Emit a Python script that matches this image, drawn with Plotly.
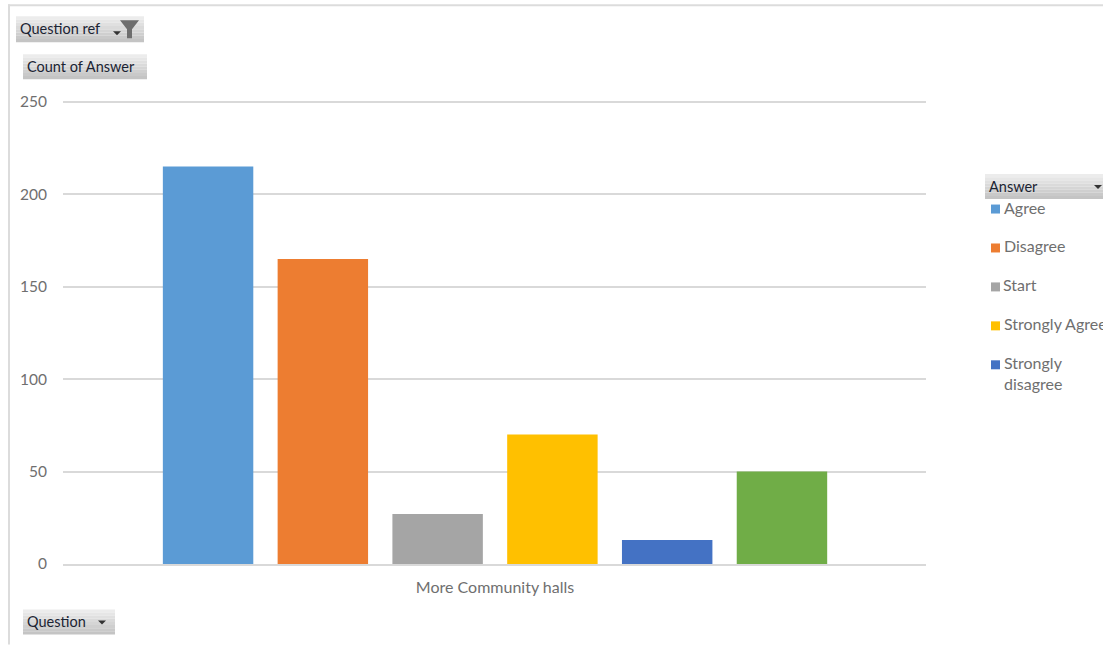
import plotly.graph_objects as go

category = "More Community halls"
answers = ["Agree", "Disagree", "Start", "Strongly Agree", "Strongly disagree", "(blank)"]
counts = [215, 165, 27, 70, 13, 50]
colors = ["#5B9BD5", "#ED7D31", "#A5A5A5", "#FFC000", "#4472C4", "#70AD47"]
y_ticks = [0, 50, 100, 150, 200, 250]
y_top = 252

W, H = 1103, 645
L, R, B = 63, 926, 564.5
T = B - (B - 101.5) * y_top / 250
FONT = "Lato"
GREY = "#6f6f6f"
DARK = "#1b2433"


def px(x):
    return (x - L) / (R - L)


def py(y):
    return (B - y) / (B - T)


fig = go.Figure()
for name, value, color in zip(answers, counts, colors):
    fig.add_bar(x=[category], y=[value], name=name, marker=dict(color=color, line=dict(width=0)),
                showlegend=False)

shapes = []
annotations = []


def rect(x0, y0, x1, y1, color):
    shapes.append(dict(type="rect", xref="paper", yref="paper", x0=px(x0), x1=px(x1),
                       y0=py(y0), y1=py(y1), fillcolor=color, line=dict(width=0), layer="above"))


def text(x, y, s, color=DARK, size=14.5):
    annotations.append(dict(xref="paper", yref="paper", x=px(x - 2), y=py(y - 1), text=s, showarrow=False,
                            xanchor="left", yanchor="middle", align="left",
                            font=dict(family=FONT, size=size, color=color)))


def arrow(cx, cy):
    shapes.append(dict(type="path", xref="paper", yref="paper",
                       path=f"M {px(cx - 4)} {py(cy - 2)} L {px(cx + 4)} {py(cy - 2)} L {px(cx)} {py(cy + 2)} Z",
                       fillcolor="#333333", line=dict(width=0), layer="above"))


def button(x0, y0, x1, y1, label, tx, dy=1):
    steps = 8
    for i in range(steps):
        level = int(236 - (236 - 196) * i / (steps - 1))
        c = f"rgb({level},{level},{level})"
        rect(x0, y0 + (y1 - y0) * i / steps, x1, y0 + (y1 - y0) * (i + 1) / steps, c)
    text(tx, (y0 + y1) / 2 + dy, label)


# outer chart border
rect(8, 4, W, 6, "#dcdcdc")
rect(8, 4, 10, H, "#dcdcdc")

button(16, 16, 144, 42, "Question ref", 20, 0)
arrow(117, 33)
shapes.append(dict(type="path", xref="paper", yref="paper",
                   path=f"M {px(120)} {py(20)} L {px(139)} {py(20)} L {px(132)} {py(29)} L {px(132)} {py(38)} "
                        f"L {px(127)} {py(38)} L {px(127)} {py(29)} Z",
                   fillcolor="#6e6e6e", line=dict(width=0), layer="above"))
button(23, 54, 147, 79, "Count of Answer", 27)
button(23, 610, 115, 635, "Question", 27)
arrow(102, 623)
button(985, 174, 1103, 199, "Answer", 989)
arrow(1098, 187)

# pivot-chart legend (wraps and clips like the original)
legend_y = [209, 248, 287, 326, 365]
for name, color, y in zip(answers[:5], colors[:5], legend_y):
    rect(991, y - 4.5, 1000, y + 4.5, color)
    if name == "Strongly disagree":
        text(1003.5, y - 1, "Strongly", GREY, 16)
        text(1003.5, y + 20, "disagree", GREY, 16)
    else:
        text(1003.5, y - 1, name, GREY, 16)

fig.update_layout(
    width=W, height=H, autosize=False,
    margin=dict(l=L, r=W - R, t=T, b=H - B, pad=0),
    paper_bgcolor="white", plot_bgcolor="white",
    barmode="group", bargap=0.202, bargroupgap=0.212,
    showlegend=False, font=dict(family=FONT, size=15, color=GREY),
    shapes=shapes, annotations=annotations,
    xaxis=dict(type="category", range=[-0.5006, 0.4994], showgrid=False, showline=True,
               linecolor="#d9d9d9", linewidth=2,
               ticks="", tickfont=dict(family=FONT, size=16, color=GREY), ticklabelstandoff=8),
    yaxis=dict(range=[0, y_top], tickvals=y_ticks, showgrid=True, gridcolor="#d9d9d9", gridwidth=1.5,
               zeroline=False, showline=False, ticks="", ticklabelstandoff=15,
               tickfont=dict(family=FONT, size=15.5, color=GREY)),
)

fig.write_html("out.html", config=dict(displayModeBar=False, responsive=False),
               post_script="document.body.style.margin='0';document.body.style.overflow='hidden';")
